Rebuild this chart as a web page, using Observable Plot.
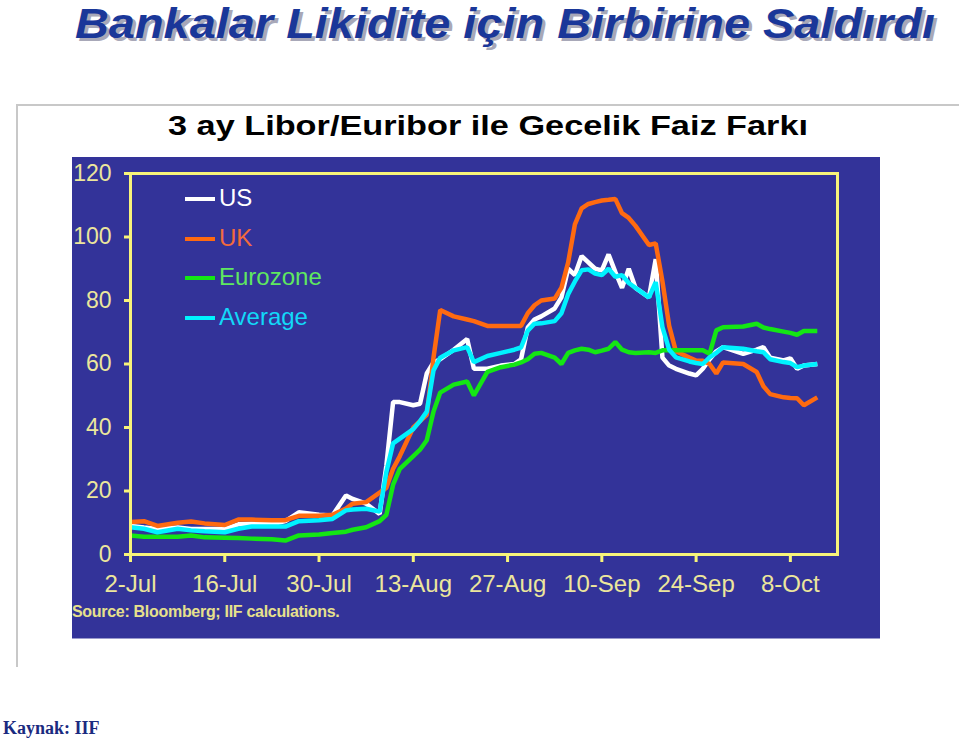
<!DOCTYPE html>
<html><head><meta charset="utf-8">
<script src="https://cdn.jsdelivr.net/npm/d3@7"></script>
<script src="https://cdn.jsdelivr.net/npm/@observablehq/plot@0.6"></script>
<style>
body{margin:0;width:959px;height:740px;position:relative;background:#fff;overflow:hidden;font-family:"Liberation Sans",Arial,sans-serif}
.abs{position:absolute;white-space:nowrap}
#title{left:75px;top:0px;font-size:42px;line-height:normal;font-weight:bold;font-style:italic;color:#1a3799;text-shadow:3px 3px 0 #a8a8b8;transform-origin:left top}
#frame{left:16px;top:104px;width:960px;height:563px;border-left:2px solid #c8c8c8;border-top:2px solid #c8c8c8;box-sizing:border-box}
#ctitle{left:168px;top:110px;font-size:28px;line-height:32px;font-weight:bold;color:#000;transform-origin:left top}
#panel{left:72px;top:157px;width:808px;height:481px;background:#333399;border-bottom:1px solid #9a9acc;box-sizing:content-box}
#legend{left:113px;top:29px}
.leg{position:absolute;left:0;height:24px;font-size:24px;line-height:24px;white-space:nowrap}
.leg span.sw{position:absolute;left:0;top:11px;width:30px;height:4px}
.leg span.tx{position:absolute;left:34px;top:0}
#source{left:0px;top:446px;font-size:16px;font-weight:bold;color:#e6e08c;letter-spacing:-0.3px}
#kaynak{left:3px;top:718px;font-family:"Liberation Serif","Times New Roman",serif;font-weight:bold;font-size:18px;color:#1a2a80}
</style></head><body>
<div id="frame" class="abs"></div>
<div id="title" class="abs">Bankalar Likidite için Birbirine Saldırdı</div>
<div id="ctitle" class="abs">3 ay Libor/Euribor ile Gecelik Faiz Farkı</div>
<div id="panel" class="abs"></div>
<div id="kaynak" class="abs">Kaynak: IIF</div>
<script>
// ---- data (spread, basis points) ----
const dates = ["2007-07-02","2007-07-04","2007-07-06","2007-07-09","2007-07-11","2007-07-13","2007-07-16","2007-07-18","2007-07-20","2007-07-23","2007-07-25","2007-07-27","2007-07-30",
"2007-08-01","2007-08-03","2007-08-04","2007-08-06","2007-08-08","2007-08-09","2007-08-10","2007-08-11","2007-08-13","2007-08-14","2007-08-15","2007-08-16","2007-08-17","2007-08-19","2007-08-21","2007-08-22","2007-08-24","2007-08-26","2007-08-28","2007-08-29","2007-08-30","2007-08-31",
"2007-09-01","2007-09-03","2007-09-04","2007-09-05","2007-09-06","2007-09-07","2007-09-08","2007-09-09","2007-09-10","2007-09-11","2007-09-12","2007-09-13","2007-09-14","2007-09-15","2007-09-17","2007-09-18","2007-09-19","2007-09-20","2007-09-21","2007-09-23","2007-09-24","2007-09-25","2007-09-26","2007-09-27","2007-09-28",
"2007-10-01","2007-10-03","2007-10-04","2007-10-05","2007-10-07","2007-10-08","2007-10-09","2007-10-10","2007-10-12"];
const us = [9.0,8.5,8.0,8.5,8.0,8.0,8.0,9.5,9.7,9.5,10.5,13.3,12.5,
12.3,18.6,17.5,16.0,12.8,28,48,48,47,47.5,57,60.5,61.5,64.5,67.9,58.5,58.5,59.5,60,61.5,71.5,74,
75,77.5,81,90,88,94,92,90,89.5,94.5,89,84,90,84,81,93,62,59.5,58.5,57,56.4,58.5,61.5,64,65.3,
63.2,64.5,65.3,62,61.1,61.8,58.5,59.5,60];
const uk = [10.2,10.5,9.0,10.0,10.4,9.8,9.3,11.0,11.0,10.8,10.8,12.2,12.2,
12.5,14.5,16.0,16.5,19.5,21,27,31,40,42,44,62,77,75,74,73.5,72,72,72,72,76,78.5,
80,80.6,84,92,104,109,110.4,111,111.5,111.7,112,107.5,106,103.5,97.5,98,86,72,64,62,61.1,61,60,57,60.5,
60,57.5,53,50.5,49.5,49.3,49.2,47,49.5];
const eurozone = [6.0,5.6,5.6,5.6,6.0,5.4,5.3,5.2,5.0,4.8,4.4,6.0,6.3,
6.8,7.2,7.8,8.6,10.5,12.5,22,27,31,33,36,45,51,53.5,54.5,50.1,57.5,59,59.8,60.5,61.5,63.2,
63.5,62,60,63.5,64.3,64.8,64.5,63.7,64.2,64.8,66.9,64.5,63.7,63.5,63.7,63.5,64.3,64.3,64.3,64.3,64.3,64.3,63.2,70.6,71.6,
71.8,72.7,71.5,71,70.2,69.8,69.2,70.4,70.4];
const average = [8.6,8.1,7.0,8.1,7.6,7.3,7.0,8.1,8.8,8.8,8.8,10.5,10.8,
11.2,13.9,14.2,14.4,13.5,26,35,36.5,39.5,42,45,58,62,64.3,65.3,60.6,62.5,63.5,64.5,65.2,70.5,72.7,
72.8,73.5,76,82,86,89.5,89.8,88.5,88,90,87.5,88,85.5,84,81,85.8,71.6,64.5,62.1,60.8,60.3,60,62.1,63.5,65.3,
64.8,64,63.7,61.5,60.6,60.3,59,59.5,60];
const seriesNames = ["US","UK","Eurozone","Average"];
const seriesColors = ["#ffffff","#ff6a10","#14e614","#00f2ff"];
const legendTextColors = ["#ffffff","#f26a3c","#5fe85f","#12d8f8"];
const xTicks = ["2007-07-02","2007-07-16","2007-07-30","2007-08-13","2007-08-27","2007-09-10","2007-09-24","2007-10-08"];
const yTicks = [0,20,40,60,80,100,120];
const xDomain = ["2007-07-02","2007-10-15"];
const titleText = "Bankalar Likidite için Birbirine Saldırdı";
const chartTitle = "3 ay Libor/Euribor ile Gecelik Faiz Farkı";
const sourceText = "Source:  Bloomberg; IIF calculations.";

const parse = d3.utcParse("%Y-%m-%d");
const values = [us, uk, eurozone, average];
const rows = seriesNames.flatMap((name, i) => dates.map((d, j) => ({date: parse(d), value: values[i][j], series: name})));

const axisColor = "#f8f47a";
const labelColor = "#ece69c";
const chart = Plot.plot({
  width: 808, height: 481,
  marginLeft: 58, marginTop: 16, marginRight: 43, marginBottom: 84,
  style: {background: "transparent", color: labelColor, fontFamily: "'Liberation Sans', Arial, sans-serif", fontSize: "23px", overflow: "visible"},
  x: {type: "utc", domain: xDomain.map(parse)},
  y: {domain: [0, 120]},
  color: {domain: seriesNames, range: seriesColors},
  marks: [
    Plot.line(rows, {x: "date", y: "value", z: "series", stroke: "series", strokeWidth: 4.5, strokeLinejoin: "miter", strokeLinecap: "butt"}),
    Plot.frame({stroke: axisColor, strokeWidth: 3}),
    Plot.axisY({ticks: yTicks, tickSize: 6, tickPadding: 13, stroke: axisColor, strokeWidth: 3, fill: labelColor, fontSize: 23, label: null}),
    Plot.axisX({ticks: xTicks.map(parse), tickFormat: d3.utcFormat("%-d-%b"), tickSize: 8, tickPadding: 12, stroke: axisColor, strokeWidth: 3, fill: labelColor, fontSize: 24, label: null})
  ]
});
const panel = document.getElementById("panel");
panel.appendChild(chart);

// legend
const legend = document.createElement("div");
legend.id = "legend"; legend.className = "abs";
seriesNames.forEach((name, i) => {
  const row = document.createElement("div");
  row.className = "leg";
  row.style.top = (i * 39.5) + "px";
  row.innerHTML = `<span class="sw" style="background:${seriesColors[i]}"></span><span class="tx" style="color:${legendTextColors[i]}">${name}</span>`;
  legend.appendChild(row);
});
panel.appendChild(legend);

const src = document.createElement("div");
src.id = "source"; src.className = "abs"; src.textContent = sourceText;
panel.appendChild(src);

document.getElementById("title").textContent = titleText;
document.getElementById("ctitle").textContent = chartTitle;
function fit(id, w) {
  const el = document.getElementById(id);
  const nat = el.getBoundingClientRect().width;
  el.style.transform = `scaleX(${w / nat})`;
}
fit("title", 860);
fit("ctitle", 640);
</script>
</body></html>
